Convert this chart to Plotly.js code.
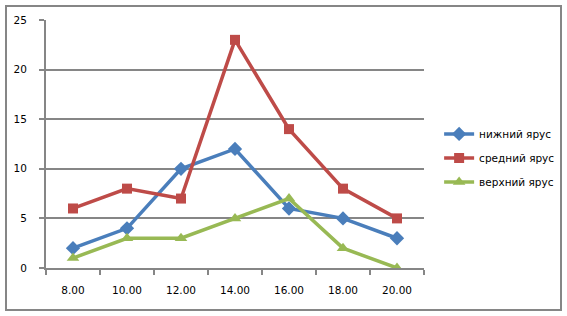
<!DOCTYPE html>
<html><head><meta charset="utf-8">
<script src="https://cdn.plot.ly/plotly-3.0.1.min.js"></script>
<style>
html,body{margin:0;padding:0;background:#fff;}
#wrap{position:relative;width:567px;height:316px;}
#chart{position:absolute;left:0;top:0;width:567px;height:316px;}
#frame{position:absolute;left:5px;top:5px;width:553px;height:302px;border:2px solid #868686;pointer-events:none;}
</style></head>
<body><div id="wrap"><div id="chart"></div><div id="frame"></div></div>
<script>
const categories = ["8.00","10.00","12.00","14.00","16.00","18.00","20.00"];
const lowerTier = [2,4,10,12,6,5,3];
const middleTier = [6,8,7,23,14,8,5];
const upperTier = [1,3,3,5,7,2,0];
const seriesNames = ["нижний ярус","средний ярус","верхний ярус"];

const font = {family:"DejaVu Sans", size:10.5, color:"#000"};
const traces = [
  {x:categories, y:lowerTier, name:seriesNames[0], legendgroup:"a", type:"scatter", mode:"lines+markers",
   line:{color:"#4A7EBB", width:3.5}, marker:{symbol:"diamond", size:11, color:"#4A7EBB"}},
  {x:categories, y:middleTier, name:seriesNames[1], legendgroup:"b", type:"scatter", mode:"lines+markers",
   line:{color:"#BE4B48", width:3.5}, marker:{symbol:"square", size:10, color:"#BE4B48"}},
  {x:categories, y:upperTier, name:seriesNames[2], legendgroup:"c", type:"scatter", mode:"lines+markers",
   line:{color:"#98B954", width:3.5}, marker:{symbol:"triangle-up", size:11, color:"#98B954"}}
];
const layout = {
  width:567, height:316, paper_bgcolor:"#fff", plot_bgcolor:"#fff",
  margin:{l:46, r:143, t:20, b:48, autoexpand:false}, font:font, showlegend:true,
  xaxis:{type:"category", range:[-0.5,6.5], tickson:"boundaries", ticks:"outside", ticklen:5,
    tickcolor:"#868686", tickwidth:2, showline:true, linecolor:"#868686", linewidth:2,
    showgrid:false, zeroline:false, fixedrange:true, tickfont:font, ticklabelstandoff:11},
  yaxis:{range:[0,25], dtick:5, ticks:"outside", ticklen:5, tickcolor:"#868686", tickwidth:2,
    showline:true, linecolor:"#868686", linewidth:2, showgrid:true, gridcolor:"#868686", gridwidth:2,
    zeroline:false, tickfont:font, ticklabelstandoff:10},
  legend:{x:1.04, y:0.444, xanchor:"left", yanchor:"middle", font:font, bgcolor:"rgba(0,0,0,0)",
    traceorder:"grouped", tracegroupgap:5, itemwidth:30}
};
Plotly.newPlot("chart", traces, layout, {displayModeBar:false, staticPlot:true});
</script></body></html>
